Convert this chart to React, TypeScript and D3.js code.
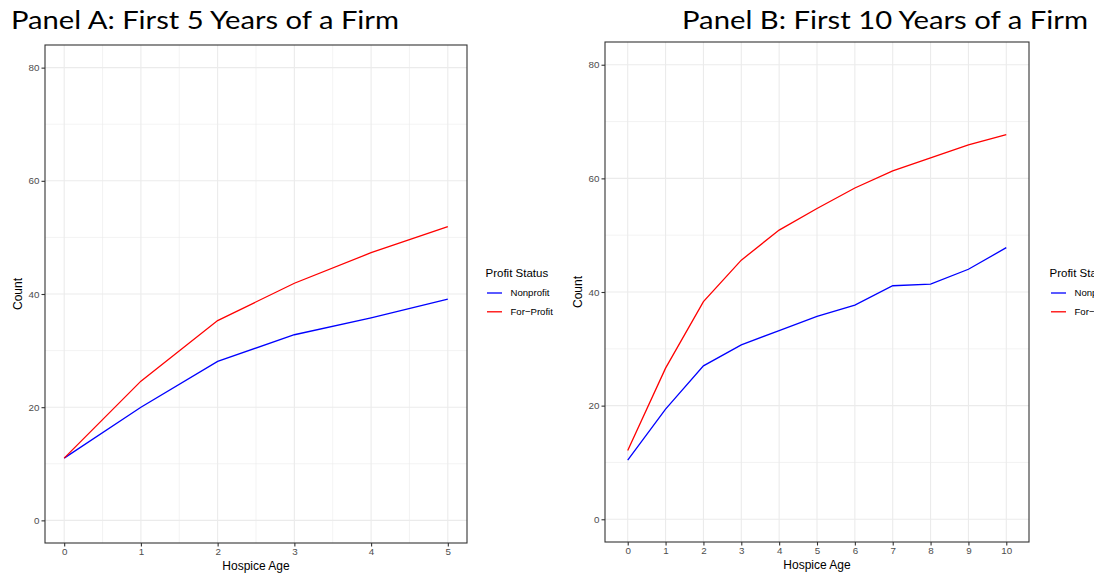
import React, { useEffect, useRef } from "react";
import * as d3 from "d3";

// Panel A: first 5 years
const agesA = [0, 1, 2, 3, 4, 5];
const nonprofitA = [11.0, 20.0, 28.1, 32.8, 35.8, 39.1];
const forProfitA = [11.0, 24.6, 35.3, 41.9, 47.3, 51.9];

// Panel B: first 10 years
const agesB = [0, 1, 2, 3, 4, 5, 6, 7, 8, 9, 10];
const nonprofitB = [10.4, 19.4, 27.0, 30.7, 33.2, 35.7, 37.7, 41.1, 41.4, 44.0, 47.8];
const forProfitB = [12.1, 26.6, 38.3, 45.6, 50.9, 54.7, 58.3, 61.3, 63.6, 65.9, 67.7];

const yTicks = [0, 20, 40, 60, 80];
const yMinor = [10, 30, 50, 70];
const seriesNames = ["Nonprofit", "For\u2212Profit"];
const seriesColors = ["#0000FF", "#FF0000"];
const titles = ["Panel A: First 5 Years of a Firm", "Panel B: First 10 Years of a Firm"];

const W = 1094,
	H = 576;

function drawPanel(svg, opts) {
	const { ages, series, xDomain, box, xMinor, legendX, title } = opts;
	const x = d3.scaleLinear().domain(xDomain).range([box.left, box.right]);
	const y = d3.scaleLinear().domain([-4, 84]).range([box.bottom, box.top]);
	const g = svg.append("g");

	// grid
	const grid = g.append("g").attr("stroke", "#EBEBEB");
	grid.selectAll("line.ym")
		.data(yMinor)
		.enter()
		.append("line")
		.attr("x1", box.left)
		.attr("x2", box.right)
		.attr("y1", (d) => y(d))
		.attr("y2", (d) => y(d))
		.attr("stroke-width", 0.6);
	grid.selectAll("line.xm")
		.data(xMinor)
		.enter()
		.append("line")
		.attr("y1", box.top)
		.attr("y2", box.bottom)
		.attr("x1", (d) => x(d))
		.attr("x2", (d) => x(d))
		.attr("stroke-width", 0.6);
	grid.selectAll("line.y")
		.data(yTicks)
		.enter()
		.append("line")
		.attr("x1", box.left)
		.attr("x2", box.right)
		.attr("y1", (d) => y(d))
		.attr("y2", (d) => y(d))
		.attr("stroke-width", 1.1);
	grid.selectAll("line.x")
		.data(ages)
		.enter()
		.append("line")
		.attr("y1", box.top)
		.attr("y2", box.bottom)
		.attr("x1", (d) => x(d))
		.attr("x2", (d) => x(d))
		.attr("stroke-width", 1.1);

	// lines
	const line = d3
		.line()
		.x((d, i) => x(ages[i]))
		.y((d) => y(d));
	series.forEach((vals, i) => {
		g.append("path")
			.datum(vals)
			.attr("d", line)
			.attr("fill", "none")
			.attr("stroke", seriesColors[i])
			.attr("stroke-width", 1.3);
	});

	// border
	g.append("rect")
		.attr("x", box.left)
		.attr("y", box.top)
		.attr("width", box.right - box.left)
		.attr("height", box.bottom - box.top)
		.attr("fill", "none")
		.attr("stroke", "#333333")
		.attr("stroke-width", 1.1);

	// axes
	const fmt = d3.format("d");
	const xAxis = d3.axisBottom(x).tickValues(ages).tickFormat(fmt).tickSize(3.5).tickPadding(2);
	const xg = g.append("g").attr("transform", `translate(0,${box.bottom})`).call(xAxis);
	const yAxis = d3.axisLeft(y).tickValues(yTicks).tickFormat(fmt).tickSize(3.5).tickPadding(2);
	const yg = g.append("g").attr("transform", `translate(${box.left},0)`).call(yAxis);
	[xg, yg].forEach((ax) => {
		ax.select(".domain").remove();
		ax.selectAll(".tick line").attr("stroke", "#333333").attr("stroke-width", 1.1);
		ax.selectAll(".tick text")
			.attr("fill", "#4D4D4D")
			.style("font-family", "Liberation Sans, Arial, sans-serif")
			.style("font-size", "9.8px");
	});

	const font = "Liberation Sans, Arial, sans-serif";
	g.append("text")
		.attr("x", (box.left + box.right) / 2)
		.attr("y", box.bottom + 27)
		.attr("text-anchor", "middle")
		.style("font-family", font)
		.style("font-size", "12px")
		.text("Hospice Age");
	g.append("text")
		.attr("transform", `translate(${box.left - 23},${(box.top + box.bottom) / 2}) rotate(-90)`)
		.attr("text-anchor", "middle")
		.style("font-family", font)
		.style("font-size", "12px")
		.text("Count");

	// legend
	const lg = g.append("g").attr("transform", `translate(${legendX},0)`);
	lg.append("text")
		.attr("x", 0)
		.attr("y", 277)
		.style("font-family", font)
		.style("font-size", "11.5px")
		.text("Profit Status");
	seriesNames.forEach((name, i) => {
		const yy = 293 + i * 18.8;
		lg.append("line")
			.attr("x1", 1.5)
			.attr("x2", 16.5)
			.attr("y1", yy)
			.attr("y2", yy)
			.attr("stroke", seriesColors[i])
			.attr("stroke-width", 1.3);
		lg.append("text")
			.attr("x", 25)
			.attr("y", yy + 3.4)
			.style("font-family", font)
			.style("font-size", "9.6px")
			.text(name);
	});

	// panel title
	svg.append("text")
		.attr("x", title.x)
		.attr("y", 28.5)
		.attr("textLength", title.len)
		.attr("lengthAdjust", "spacingAndGlyphs")
		.style("font-family", "Lato, Open Sans, sans-serif")
		.style("font-size", "24.5px")
		.attr("fill", "#000")
		.text(title.text);
}

export default function App() {
	const ref = useRef(null);

	useEffect(() => {
		const svg = d3.select(ref.current);
		svg.selectAll("*").remove();
		svg.append("rect").attr("width", W).attr("height", H).attr("fill", "#fff");

		drawPanel(svg, {
			ages: agesA,
			series: [nonprofitA, forProfitA],
			xDomain: [-0.25, 5.25],
			box: { left: 45, right: 467, top: 45, bottom: 543 },
			xMinor: d3.range(0.5, 5, 1),
			legendX: 485.5,
			title: { x: 11, len: 388, text: titles[0] },
		});

		drawPanel(svg, {
			ages: agesB,
			series: [nonprofitB, forProfitB],
			xDomain: [-0.6, 10.6],
			box: { left: 605, right: 1029, top: 42, bottom: 542 },
			xMinor: [],
			legendX: 1049.5,
			title: { x: 682, len: 406, text: titles[1] },
		});
	}, []);

	return (
		<svg
			ref={ref}
			width={W}
			height={H}
			style={{ position: "absolute", left: 0, top: 0, display: "block" }}
		/>
	);
}
